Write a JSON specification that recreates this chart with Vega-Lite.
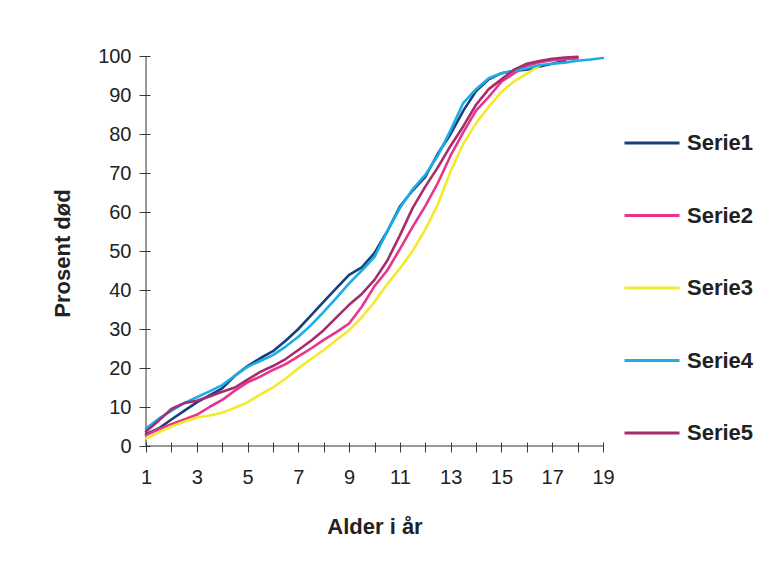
{
  "$schema": "https://vega.github.io/schema/vega-lite/v6.json",
  "width": 457,
  "height": 390,
  "autosize": {"type": "none"},
  "padding": {"left": 146, "top": 56, "right": 162, "bottom": 135},
  "background": "white",
  "config": {
    "view": {"stroke": null},
    "font": "Liberation Sans"
  },
  "datasets": {
    "akser": [
      {"alder": 1, "prosent": 0, "til": 19, "topp": 100}
    ],
    "kurver": [
      {"serie": "Serie1", "alder": 1, "prosent": 3.0},
      {"serie": "Serie1", "alder": 1.5, "prosent": 4.5},
      {"serie": "Serie1", "alder": 2, "prosent": 6.8},
      {"serie": "Serie1", "alder": 2.5, "prosent": 9.0},
      {"serie": "Serie1", "alder": 3, "prosent": 11.2},
      {"serie": "Serie1", "alder": 3.5, "prosent": 13.0},
      {"serie": "Serie1", "alder": 4, "prosent": 14.8},
      {"serie": "Serie1", "alder": 4.5, "prosent": 18.0},
      {"serie": "Serie1", "alder": 5, "prosent": 20.5},
      {"serie": "Serie1", "alder": 5.5, "prosent": 22.5},
      {"serie": "Serie1", "alder": 6, "prosent": 24.3},
      {"serie": "Serie1", "alder": 6.5, "prosent": 27.0},
      {"serie": "Serie1", "alder": 7, "prosent": 30.0},
      {"serie": "Serie1", "alder": 7.5, "prosent": 33.5},
      {"serie": "Serie1", "alder": 8, "prosent": 37.0},
      {"serie": "Serie1", "alder": 8.5, "prosent": 40.5},
      {"serie": "Serie1", "alder": 9, "prosent": 43.9},
      {"serie": "Serie1", "alder": 9.5, "prosent": 45.8},
      {"serie": "Serie1", "alder": 10, "prosent": 49.5},
      {"serie": "Serie1", "alder": 10.5, "prosent": 55.0},
      {"serie": "Serie1", "alder": 11, "prosent": 61.4},
      {"serie": "Serie1", "alder": 11.5, "prosent": 65.5},
      {"serie": "Serie1", "alder": 12, "prosent": 69.0},
      {"serie": "Serie1", "alder": 12.5, "prosent": 75.0},
      {"serie": "Serie1", "alder": 13, "prosent": 80.0},
      {"serie": "Serie1", "alder": 13.5, "prosent": 86.0},
      {"serie": "Serie1", "alder": 14, "prosent": 91.0},
      {"serie": "Serie1", "alder": 14.5, "prosent": 94.0},
      {"serie": "Serie1", "alder": 15, "prosent": 95.6},
      {"serie": "Serie1", "alder": 15.5, "prosent": 96.2},
      {"serie": "Serie1", "alder": 16, "prosent": 96.5},
      {"serie": "Serie1", "alder": 16.5, "prosent": 97.3},
      {"serie": "Serie1", "alder": 17, "prosent": 98.0},
      {"serie": "Serie1", "alder": 17.5, "prosent": 98.8},

      {"serie": "Serie2", "alder": 1, "prosent": 2.8},
      {"serie": "Serie2", "alder": 1.5, "prosent": 4.3},
      {"serie": "Serie2", "alder": 2, "prosent": 5.6},
      {"serie": "Serie2", "alder": 2.5, "prosent": 6.8},
      {"serie": "Serie2", "alder": 3, "prosent": 8.0},
      {"serie": "Serie2", "alder": 3.5, "prosent": 10.0},
      {"serie": "Serie2", "alder": 4, "prosent": 11.8},
      {"serie": "Serie2", "alder": 4.5, "prosent": 14.2},
      {"serie": "Serie2", "alder": 5, "prosent": 16.3},
      {"serie": "Serie2", "alder": 5.5, "prosent": 17.8},
      {"serie": "Serie2", "alder": 6, "prosent": 19.5},
      {"serie": "Serie2", "alder": 6.5, "prosent": 21.0},
      {"serie": "Serie2", "alder": 7, "prosent": 23.0},
      {"serie": "Serie2", "alder": 7.5, "prosent": 25.0},
      {"serie": "Serie2", "alder": 8, "prosent": 27.2},
      {"serie": "Serie2", "alder": 8.5, "prosent": 29.2},
      {"serie": "Serie2", "alder": 9, "prosent": 31.4},
      {"serie": "Serie2", "alder": 9.5, "prosent": 35.7},
      {"serie": "Serie2", "alder": 10, "prosent": 41.0},
      {"serie": "Serie2", "alder": 10.5, "prosent": 45.0},
      {"serie": "Serie2", "alder": 11, "prosent": 50.5},
      {"serie": "Serie2", "alder": 11.5, "prosent": 56.2},
      {"serie": "Serie2", "alder": 12, "prosent": 61.5},
      {"serie": "Serie2", "alder": 12.5, "prosent": 67.5},
      {"serie": "Serie2", "alder": 13, "prosent": 74.5},
      {"serie": "Serie2", "alder": 13.5, "prosent": 80.5},
      {"serie": "Serie2", "alder": 14, "prosent": 86.0},
      {"serie": "Serie2", "alder": 14.5, "prosent": 89.5},
      {"serie": "Serie2", "alder": 15, "prosent": 93.4},
      {"serie": "Serie2", "alder": 15.5, "prosent": 95.6},
      {"serie": "Serie2", "alder": 16, "prosent": 97.5},
      {"serie": "Serie2", "alder": 16.5, "prosent": 98.4},
      {"serie": "Serie2", "alder": 17, "prosent": 98.9},
      {"serie": "Serie2", "alder": 17.5, "prosent": 99.2},
      {"serie": "Serie2", "alder": 18, "prosent": 99.4},

      {"serie": "Serie3", "alder": 1, "prosent": 1.9},
      {"serie": "Serie3", "alder": 1.5, "prosent": 3.5},
      {"serie": "Serie3", "alder": 2, "prosent": 5.0},
      {"serie": "Serie3", "alder": 2.5, "prosent": 6.2},
      {"serie": "Serie3", "alder": 3, "prosent": 7.3},
      {"serie": "Serie3", "alder": 3.5, "prosent": 7.8},
      {"serie": "Serie3", "alder": 4, "prosent": 8.5},
      {"serie": "Serie3", "alder": 4.5, "prosent": 9.8},
      {"serie": "Serie3", "alder": 5, "prosent": 11.2},
      {"serie": "Serie3", "alder": 5.5, "prosent": 13.2},
      {"serie": "Serie3", "alder": 6, "prosent": 15.0},
      {"serie": "Serie3", "alder": 6.5, "prosent": 17.3},
      {"serie": "Serie3", "alder": 7, "prosent": 19.9},
      {"serie": "Serie3", "alder": 7.5, "prosent": 22.3},
      {"serie": "Serie3", "alder": 8, "prosent": 24.6},
      {"serie": "Serie3", "alder": 8.5, "prosent": 27.2},
      {"serie": "Serie3", "alder": 9, "prosent": 29.7},
      {"serie": "Serie3", "alder": 9.5, "prosent": 33.0},
      {"serie": "Serie3", "alder": 10, "prosent": 37.0},
      {"serie": "Serie3", "alder": 10.5, "prosent": 41.5},
      {"serie": "Serie3", "alder": 11, "prosent": 45.5},
      {"serie": "Serie3", "alder": 11.5, "prosent": 50.0},
      {"serie": "Serie3", "alder": 12, "prosent": 55.5},
      {"serie": "Serie3", "alder": 12.5, "prosent": 62.0},
      {"serie": "Serie3", "alder": 13, "prosent": 70.5},
      {"serie": "Serie3", "alder": 13.5, "prosent": 77.5},
      {"serie": "Serie3", "alder": 14, "prosent": 82.8},
      {"serie": "Serie3", "alder": 14.5, "prosent": 87.0},
      {"serie": "Serie3", "alder": 15, "prosent": 90.8},
      {"serie": "Serie3", "alder": 15.5, "prosent": 93.5},
      {"serie": "Serie3", "alder": 16, "prosent": 95.5},
      {"serie": "Serie3", "alder": 16.5, "prosent": 97.5},

      {"serie": "Serie4", "alder": 1, "prosent": 4.5},
      {"serie": "Serie4", "alder": 1.5, "prosent": 7.0},
      {"serie": "Serie4", "alder": 2, "prosent": 9.0},
      {"serie": "Serie4", "alder": 2.5, "prosent": 11.0},
      {"serie": "Serie4", "alder": 3, "prosent": 12.5},
      {"serie": "Serie4", "alder": 3.5, "prosent": 14.0},
      {"serie": "Serie4", "alder": 4, "prosent": 15.6},
      {"serie": "Serie4", "alder": 4.5, "prosent": 18.0},
      {"serie": "Serie4", "alder": 5, "prosent": 20.3},
      {"serie": "Serie4", "alder": 5.5, "prosent": 21.8},
      {"serie": "Serie4", "alder": 6, "prosent": 23.3},
      {"serie": "Serie4", "alder": 6.5, "prosent": 25.5},
      {"serie": "Serie4", "alder": 7, "prosent": 28.0},
      {"serie": "Serie4", "alder": 7.5, "prosent": 31.0},
      {"serie": "Serie4", "alder": 8, "prosent": 34.4},
      {"serie": "Serie4", "alder": 8.5, "prosent": 38.0},
      {"serie": "Serie4", "alder": 9, "prosent": 41.7},
      {"serie": "Serie4", "alder": 9.5, "prosent": 45.0},
      {"serie": "Serie4", "alder": 10, "prosent": 48.5},
      {"serie": "Serie4", "alder": 10.5, "prosent": 55.0},
      {"serie": "Serie4", "alder": 11, "prosent": 61.0},
      {"serie": "Serie4", "alder": 11.5, "prosent": 65.8},
      {"serie": "Serie4", "alder": 12, "prosent": 69.5},
      {"serie": "Serie4", "alder": 12.5, "prosent": 74.5},
      {"serie": "Serie4", "alder": 13, "prosent": 81.0},
      {"serie": "Serie4", "alder": 13.5, "prosent": 88.0},
      {"serie": "Serie4", "alder": 14, "prosent": 91.5},
      {"serie": "Serie4", "alder": 14.5, "prosent": 94.3},
      {"serie": "Serie4", "alder": 15, "prosent": 95.6},
      {"serie": "Serie4", "alder": 15.5, "prosent": 96.2},
      {"serie": "Serie4", "alder": 16, "prosent": 96.8},
      {"serie": "Serie4", "alder": 16.5, "prosent": 97.7},
      {"serie": "Serie4", "alder": 17, "prosent": 98.0},
      {"serie": "Serie4", "alder": 17.5, "prosent": 98.3},
      {"serie": "Serie4", "alder": 18, "prosent": 98.8},
      {"serie": "Serie4", "alder": 18.5, "prosent": 99.1},
      {"serie": "Serie4", "alder": 19, "prosent": 99.5},

      {"serie": "Serie5", "alder": 1, "prosent": 3.7},
      {"serie": "Serie5", "alder": 1.5, "prosent": 6.5},
      {"serie": "Serie5", "alder": 2, "prosent": 9.5},
      {"serie": "Serie5", "alder": 2.5, "prosent": 11.0},
      {"serie": "Serie5", "alder": 3, "prosent": 11.6},
      {"serie": "Serie5", "alder": 3.5, "prosent": 12.7},
      {"serie": "Serie5", "alder": 4, "prosent": 13.9},
      {"serie": "Serie5", "alder": 4.5, "prosent": 15.0},
      {"serie": "Serie5", "alder": 5, "prosent": 17.0},
      {"serie": "Serie5", "alder": 5.5, "prosent": 19.0},
      {"serie": "Serie5", "alder": 6, "prosent": 20.5},
      {"serie": "Serie5", "alder": 6.5, "prosent": 22.3},
      {"serie": "Serie5", "alder": 7, "prosent": 24.6},
      {"serie": "Serie5", "alder": 7.5, "prosent": 27.0},
      {"serie": "Serie5", "alder": 8, "prosent": 29.7},
      {"serie": "Serie5", "alder": 8.5, "prosent": 33.0},
      {"serie": "Serie5", "alder": 9, "prosent": 36.2},
      {"serie": "Serie5", "alder": 9.5, "prosent": 39.0},
      {"serie": "Serie5", "alder": 10, "prosent": 42.6},
      {"serie": "Serie5", "alder": 10.5, "prosent": 47.5},
      {"serie": "Serie5", "alder": 11, "prosent": 54.0},
      {"serie": "Serie5", "alder": 11.5, "prosent": 61.0},
      {"serie": "Serie5", "alder": 12, "prosent": 66.5},
      {"serie": "Serie5", "alder": 12.5, "prosent": 71.5},
      {"serie": "Serie5", "alder": 13, "prosent": 77.0},
      {"serie": "Serie5", "alder": 13.5, "prosent": 82.0},
      {"serie": "Serie5", "alder": 14, "prosent": 87.5},
      {"serie": "Serie5", "alder": 14.5, "prosent": 91.5},
      {"serie": "Serie5", "alder": 15, "prosent": 94.0},
      {"serie": "Serie5", "alder": 15.5, "prosent": 96.5},
      {"serie": "Serie5", "alder": 16, "prosent": 98.0},
      {"serie": "Serie5", "alder": 16.5, "prosent": 98.7},
      {"serie": "Serie5", "alder": 17, "prosent": 99.3},
      {"serie": "Serie5", "alder": 17.5, "prosent": 99.6},
      {"serie": "Serie5", "alder": 18, "prosent": 99.8}
    ]
  },
  "encoding": {
    "x": {
      "field": "alder",
      "type": "quantitative",
      "scale": {"domain": [1, 19], "nice": false, "zero": false},
      "axis": {
        "title": "Alder i år",
        "values": [1, 2, 3, 4, 5, 6, 7, 8, 9, 10, 11, 12, 13, 14, 15, 16, 17, 18, 19],
        "labelExpr": "datum.value % 2 == 1 ? datum.label : ''",
        "grid": false,
        "domain": false,
        "offset": -4,
        "tickSize": 10,
        "tickColor": "#3a3a3a",
        "tickWidth": 1,
        "labelFont": "Liberation Sans",
        "labelFontSize": 20,
        "labelColor": "#222222",
        "labelPadding": 15,
        "labelFlush": false,
        "labelOverlap": false,
        "titleFont": "Liberation Sans",
        "titleFontSize": 22,
        "titleFontWeight": "bold",
        "titleColor": "#222222",
        "titleBaseline": "alphabetic",
        "titleY": 91
      }
    },
    "y": {
      "field": "prosent",
      "type": "quantitative",
      "scale": {"domain": [0, 100], "nice": false},
      "axis": {
        "title": "Prosent død",
        "values": [0, 10, 20, 30, 40, 50, 60, 70, 80, 90, 100],
        "grid": false,
        "domain": false,
        "offset": -4,
        "tickSize": 11,
        "tickColor": "#3a3a3a",
        "tickWidth": 1,
        "labelFont": "Liberation Sans",
        "labelFontSize": 20,
        "labelColor": "#222222",
        "labelPadding": 8,
        "labelFlush": false,
        "labelOverlap": false,
        "titleFont": "Liberation Sans",
        "titleFontSize": 22,
        "titleFontWeight": "bold",
        "titleColor": "#222222",
        "titleBaseline": "alphabetic",
        "titleX": -81,
        "titleY": 197
      }
    }
  },
  "layer": [
    {
      "description": "Vertical axis line at age 1, from 0 to 100 percent",
      "data": {"name": "akser"},
      "mark": {"type": "rule", "color": "#333333", "strokeWidth": 1},
      "encoding": {"y2": {"field": "topp"}}
    },
    {
      "description": "Horizontal axis line at 0 percent, from age 1 to 19",
      "data": {"name": "akser"},
      "mark": {"type": "rule", "color": "#333333", "strokeWidth": 1},
      "encoding": {"x2": {"field": "til"}}
    },
    {
      "data": {"name": "kurver"},
      "mark": {"type": "line", "strokeWidth": 2.6, "strokeCap": "round", "strokeJoin": "round"},
      "encoding": {
        "color": {
          "field": "serie",
          "type": "nominal",
          "scale": {
            "domain": ["Serie1", "Serie2", "Serie3", "Serie4", "Serie5"],
            "range": ["#173f7c", "#e8358a", "#f2ea2c", "#1aaee6", "#a52d6e"]
          },
          "legend": {
            "title": null,
            "orient": "none",
            "legendX": 477,
            "legendY": 58,
            "padding": 0,
            "symbolType": "stroke",
            "symbolSize": 3025,
            "symbolStrokeWidth": 3,
            "rowPadding": 32.5,
            "labelOffset": 6,
            "labelFont": "Liberation Sans",
            "labelFontSize": 22,
            "labelFontWeight": "bold",
            "labelColor": "#222222"
          }
        }
      }
    }
  ]
}
